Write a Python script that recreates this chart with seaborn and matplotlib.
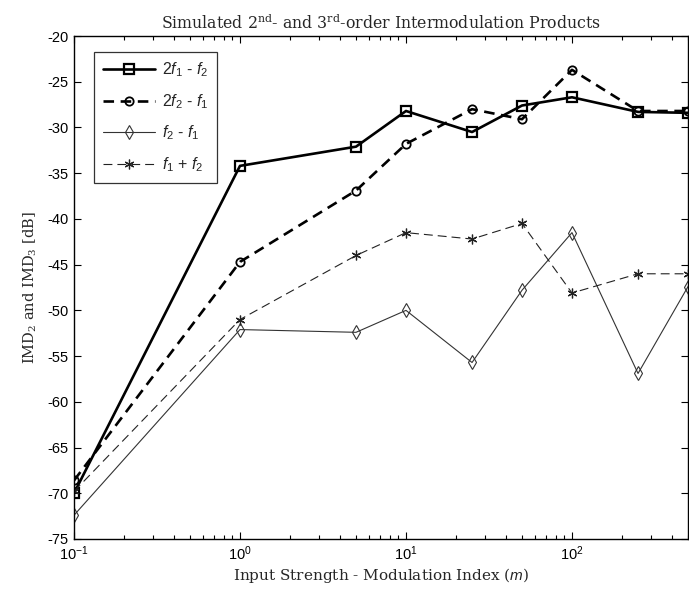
import matplotlib
matplotlib.use("Agg")
import matplotlib.pyplot as plt
import numpy as np
import pandas as pd
import seaborn as sns
from matplotlib.ticker import LogLocator, MultipleLocator, NullFormatter

# Modulation index sweep and simulated intermodulation levels [dB]
m_index = [0.1, 1, 5, 10, 25, 50, 100, 250, 500]
imd3_2f1_minus_f2 = [-70.0, -34.2, -32.1, -28.2, -30.5, -27.6, -26.7, -28.3, -28.4]
imd3_2f2_minus_f1 = [-68.6, -44.7, -36.9, -31.8, -28.0, -29.1, -23.7, -28.2, -28.2]
imd2_f2_minus_f1 = [-72.4, -52.1, -52.4, -50.0, -55.7, -47.8, -41.5, -56.9, -47.4]
imd2_f1_plus_f2 = [-69.8, -51.0, -44.0, -41.5, -42.2, -40.5, -48.1, -46.0, -46.0]

series_labels = [r"2$f_1$ - $f_2$", r"2$f_2$ - $f_1$", r"$f_2$ - $f_1$", r"$f_1$ + $f_2$"]
series_values = [imd3_2f1_minus_f2, imd3_2f2_minus_f1, imd2_f2_minus_f1, imd2_f1_plus_f2]

df = pd.DataFrame({
    "m": np.tile(m_index, len(series_labels)),
    "dB": np.concatenate(series_values),
    "product": np.repeat(series_labels, len(m_index)),
})

sns.set_style("ticks")
plt.rcParams["font.family"] = ["Liberation Sans", "DejaVu Sans"]
plt.rcParams["mathtext.fontset"] = "custom"
plt.rcParams["mathtext.rm"] = "Liberation Sans"
plt.rcParams["mathtext.it"] = "Liberation Sans:italic"
plt.rcParams["axes.unicode_minus"] = False

fig = plt.figure(figsize=(6.89, 5.91), dpi=100)
ax = fig.add_axes([74 / 689, 1 - 539 / 591, (688 - 74) / 689, (539 - 36) / 591])

asterisk = (6, 2, 0)
styles = {
    series_labels[0]: dict(marker="s", lw=1.9, ms=7, mew=1.6, ls="-", color="black"),
    series_labels[1]: dict(marker="o", lw=1.9, ms=6, mew=1.3, ls=(0, (4, 2.5)), color="black"),
    series_labels[2]: dict(marker="d", lw=0.8, ms=7, mew=0.8, ls="-", color="#333333"),
    series_labels[3]: dict(marker=asterisk, lw=0.8, ms=7, mew=0.9, ls=(0, (8, 4.5)), color="#222222"),
}

for label in series_labels:
    st = styles[label]
    sub = df[df["product"] == label]
    sns.lineplot(
        data=sub, x="m", y="dB", ax=ax, label=label, color=st["color"],
        linewidth=st["lw"], linestyle=st["ls"], marker=st["marker"],
        markersize=st["ms"], markeredgewidth=st["mew"],
        markerfacecolor="none", markeredgecolor=st["color"],
        errorbar=None, sort=False,
    )

ax.set_xscale("log")
ax.set_xlim(0.1, 500)
ax.set_ylim(-75, -20)
ax.yaxis.set_major_locator(MultipleLocator(5))
ax.xaxis.set_major_locator(LogLocator(base=10, numticks=10))
ax.xaxis.set_minor_locator(LogLocator(base=10, subs=np.arange(2, 10), numticks=20))
ax.xaxis.set_minor_formatter(NullFormatter())

for side in ["top", "right", "left", "bottom"]:
    ax.spines[side].set_visible(True)
    ax.spines[side].set_linewidth(1.0)
    ax.spines[side].set_color("black")

ax.tick_params(which="both", direction="in", top=True, right=True, colors="black",
               labelsize=10.5, width=0.8)
ax.tick_params(which="major", length=5, pad=4)
ax.tick_params(which="minor", length=3)

serif = ["DejaVu Serif"]
ax.set_title(r"Simulated 2$^{\mathdefault{nd}}$- and 3$^{\mathdefault{rd}}$-order Intermodulation Products",
             fontsize=11.3, family=serif, pad=5)
ax.set_xlabel(r"Input Strength - Modulation Index ($m$)", fontsize=11, family=serif, labelpad=2)
ax.set_ylabel(r"IMD$_{\mathdefault{2}}$ and IMD$_{\mathdefault{3}}$ [dB]", fontsize=10.5, family=serif, labelpad=6)

leg = ax.legend(loc="upper left", bbox_to_anchor=(94 / 689, 1 - 52 / 591),
                bbox_transform=fig.transFigure, borderaxespad=0, frameon=True,
                fancybox=False, edgecolor="black", fontsize=11.5, handlelength=3.3,
                labelspacing=0.8, handletextpad=0.4, borderpad=0.55)
leg.get_frame().set_linewidth(0.9)

fig.savefig("out.png", dpi=100)
